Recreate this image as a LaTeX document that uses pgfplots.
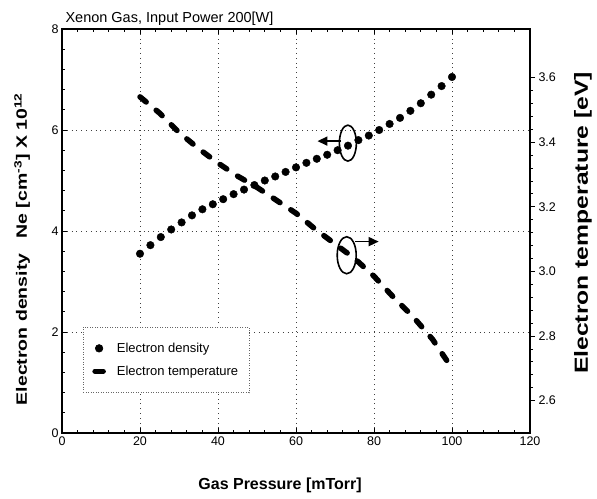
\documentclass[border=0pt]{standalone}
\usepackage{fontspec}
\setmainfont{Liberation Sans}
\newfontfamily\vlabelfont[FakeStretch=1.3]{Liberation Sans}
\usepackage{pgfplots}
\pgfplotsset{compat=1.18}
\usetikzlibrary{arrows.meta}

\pgfplotsset{
  every axis/.append style={
    scale only axis, width=468bp, height=404bp,
    xmin=0, xmax=120,
    /pgf/number format/assume math mode=true,
    tick label style={font=\fontsize{12.5bp}{14bp}\selectfont},
    axis line style={line width=1.4bp},
    major tick length=5bp, minor tick length=3bp,
    every tick/.style={black, line width=0.8bp},
  }
}

\begin{document}
\begin{tikzpicture}
\begin{axis}[
    name=ax,
    ymin=0, ymax=8,
    xtick={0,20,40,60,80,100,120},
    ytick={0,2,4,6,8},
    minor x tick num=4, minor y tick num=4,
    ytick pos=left,
    tick align=inside,
    grid=major,
    grid style={black!75, line width=0.7bp, dash pattern=on 0.8bp off 4bp},
    xlabel={Gas Pressure [mTorr]},
    xlabel style={font=\fontsize{16bp}{18bp}\selectfont\bfseries,
        at={(axis description cs:0.466,-0.129)}, anchor=center},
    ylabel={Electron density\quad Ne [cm\textsuperscript{-3}] X 10\textsuperscript{12}},
    ylabel style={font=\vlabelfont\fontsize{15bp}{17bp}\selectfont\bfseries,
        at={(axis description cs:-0.085,0.455)}, anchor=center},
    legend style={at={(axis description cs:0.045,0.099)}, anchor=south west,
        draw=black!60, dash pattern=on 1bp off 1.5bp, line width=0.6bp,
        font=\fontsize{13bp}{15bp}\selectfont,
        inner xsep=9bp, inner ysep=14bp, row sep=8bp,
        nodes={solid},
        /tikz/every odd column/.append style={column sep=9bp}},
    legend cell align=left,
]
\addplot[only marks, mark=*, mark size=3.8bp, black] coordinates {
    (20,3.55) (22.67,3.72) (25.33,3.88) (28,4.03) (30.67,4.17)
    (33.33,4.31) (36,4.43) (38.67,4.53) (41.33,4.63) (44,4.73)
    (46.67,4.82) (49.33,4.91) (52,5.00) (54.67,5.08) (57.33,5.17)
    (60,5.26) (62.67,5.35) (65.33,5.43) (68,5.51) (70.67,5.60)
    (73.33,5.69) (76,5.80) (78.67,5.89) (81.33,6.00) (84,6.12)
    (86.67,6.24) (89.33,6.38) (92,6.53) (94.67,6.70) (97.33,6.87)
    (100,7.05)};
\addlegendentry{Electron density}
\addlegendimage{legend image code/.code={
    \draw[black, solid, line width=5bp, line cap=round] (0.15cm,0cm) -- (0.45cm,0cm);}}
\addlegendentry{Electron temperature}

% annotation ellipses and arrows
\draw[line width=1.6bp] (axis cs:73.3,5.74) ellipse [x radius=8.5bp, y radius=18bp];
\draw[line width=1.6bp, -{Triangle[length=10bp,width=9bp]}]
    (axis cs:71.6,5.78) -- (axis cs:65.5,5.78);
\draw[line width=1.6bp] (axis cs:73.0,3.52) ellipse [x radius=9.5bp, y radius=18.5bp];
\draw[line width=1.6bp, -{Triangle[length=10bp,width=9bp]}]
    (axis cs:75.2,3.79) -- (axis cs:81.2,3.79);
\end{axis}

\begin{axis}[
    axis x line=none,
    axis y line*=right,
    ymin=2.5, ymax=3.75,
    ytick={2.6,2.8,3.0,3.2,3.4,3.6},
    minor y tick num=4,
    tick align=outside,
    yticklabel style={/pgf/number format/fixed, /pgf/number format/precision=1,
        /pgf/number format/fixed zerofill},
    ylabel={Electron temperature [eV]},
    ylabel style={font=\vlabelfont\fontsize{19bp}{21bp}\selectfont\bfseries,
        at={(axis description cs:1.113,0.52)}, anchor=center, rotate=0},
]
\addplot[black, line width=5.5bp, dash pattern=on 8bp off 13bp,
    line cap=round, line join=round] coordinates {
    (20,3.54) (25,3.49) (30,3.43) (35,3.38) (40,3.335) (45,3.295)
    (50,3.26) (55,3.22) (60,3.18) (65,3.13) (70,3.085) (75,3.04)
    (80,2.985) (85,2.92) (90,2.86) (95,2.79) (100,2.70)};
\end{axis}

\node[anchor=base west, font=\fontsize{14.5bp}{17bp}\selectfont]
    at (ax.north west) [yshift=6.5bp] {Xenon Gas, Input Power 200[W]};

\pgfresetboundingbox
\path (ax.south west) ++(-62bp,-66bp) rectangle ++(597bp,499bp);
\end{tikzpicture}
\end{document}
